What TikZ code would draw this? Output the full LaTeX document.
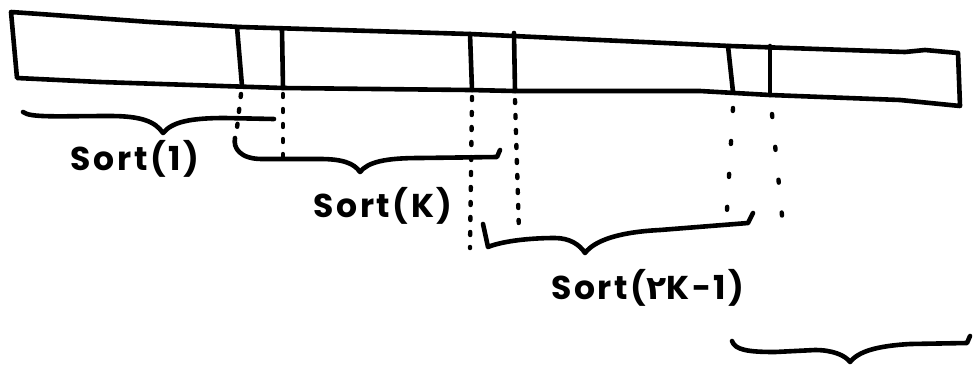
\documentclass[tikz,border=0pt]{standalone}
\usepackage{fontspec}
\setmainfont{Poppins}[LetterSpace=8]
\newfontfamily\persianfont[Script=Arabic]{DejaVu Sans}
\begin{document}
\begin{tikzpicture}[x=1pt,y=-1pt,
  ink/.style={line width=4.6pt,line cap=round,line join=round},
  dotline/.style={line width=4.4pt,line cap=round,dash pattern=on 3pt off 12pt},
  sparsedots/.style={line width=4.4pt,line cap=round,dash pattern=on 3pt off 30pt},
  lbl/.style={font=\fontsize{33}{35}\selectfont\bfseries,inner sep=0pt}]
\useasboundingbox (0,0) rectangle (973,365);
\fill[white] (0,0) rectangle (973,365);

% the array strip
\draw[ink] (11,12) -- (40,14) -- (150,22) -- (240,27) -- (470,34) -- (600,40)
  -- (730,46) -- (905,52) -- (925,50) -- (958,53) -- (960,106) -- (900,100)
  -- (770,95) -- (700,91) -- (515,91) -- (470,90) -- (283,88) -- (100,82)
  -- (17,78) -- cycle;

% boundary cells
\coordinate (a1t) at (237,27);  \coordinate (a1b) at (242,86);
\coordinate (a2t) at (282,30);  \coordinate (a2b) at (283,88);
\coordinate (b1t) at (470,34);  \coordinate (b1b) at (472,90);
\coordinate (b2t) at (514,33);  \coordinate (b2b) at (515,91);
\coordinate (c1t) at (728,46);  \coordinate (c1b) at (733,92);
\coordinate (c2t) at (770,46);  \coordinate (c2b) at (770,95);
\foreach \p in {a1,a2,b1,b2,c1,c2} \draw[ink] (\p t) -- (\p b);

% projections of the cell boundaries
\draw[dotline] (241,94) -- (237,128);
\draw[dotline] (283,94) -- (283,168);
\draw[dotline] (472,97) -- (470,248);
\draw[dotline] (515,100) -- (519,232);
\draw[sparsedots] (733,108) -- (727,210);
\draw[sparsedots] (772,114) -- (784,236);

% braces
\draw[ink] (23,112) .. controls (30,118) and (60,116) .. (110,116)
  .. controls (140,116) and (155,121) .. (163,133)
  .. controls (172,122) and (190,118) .. (225,118) -- (274,119);
\draw[ink] (235,138) .. controls (233,148) and (240,159) .. (262,159) -- (320,159)
  .. controls (342,159) and (354,163) .. (360,172)
  .. controls (368,162) and (385,158) .. (420,158) -- (497,157) -- (500,150);
\draw[ink] (483,224) -- (488,247) .. controls (500,242) and (525,238) .. (555,238)
  .. controls (570,238) and (580,245) .. (585,253)
  .. controls (595,240) and (620,232) .. (660,230) -- (748,223) -- (753,213);
\draw[ink] (732,341) .. controls (735,350) and (748,352) .. (775,352) -- (815,350)
  .. controls (832,350) and (845,355) .. (850,362)
  .. controls (858,352) and (875,346) .. (910,344) -- (967,343) -- (970,336);

% labels
\node[lbl] (s1) at (135,159) {Sort(1)};
\node[lbl] (sk) at (383,206) {Sort(K)};
\node[lbl] (s2k) at (648,288) {Sort({\persianfont\bfseries ۲}K-1)};
\end{tikzpicture}
\end{document}
